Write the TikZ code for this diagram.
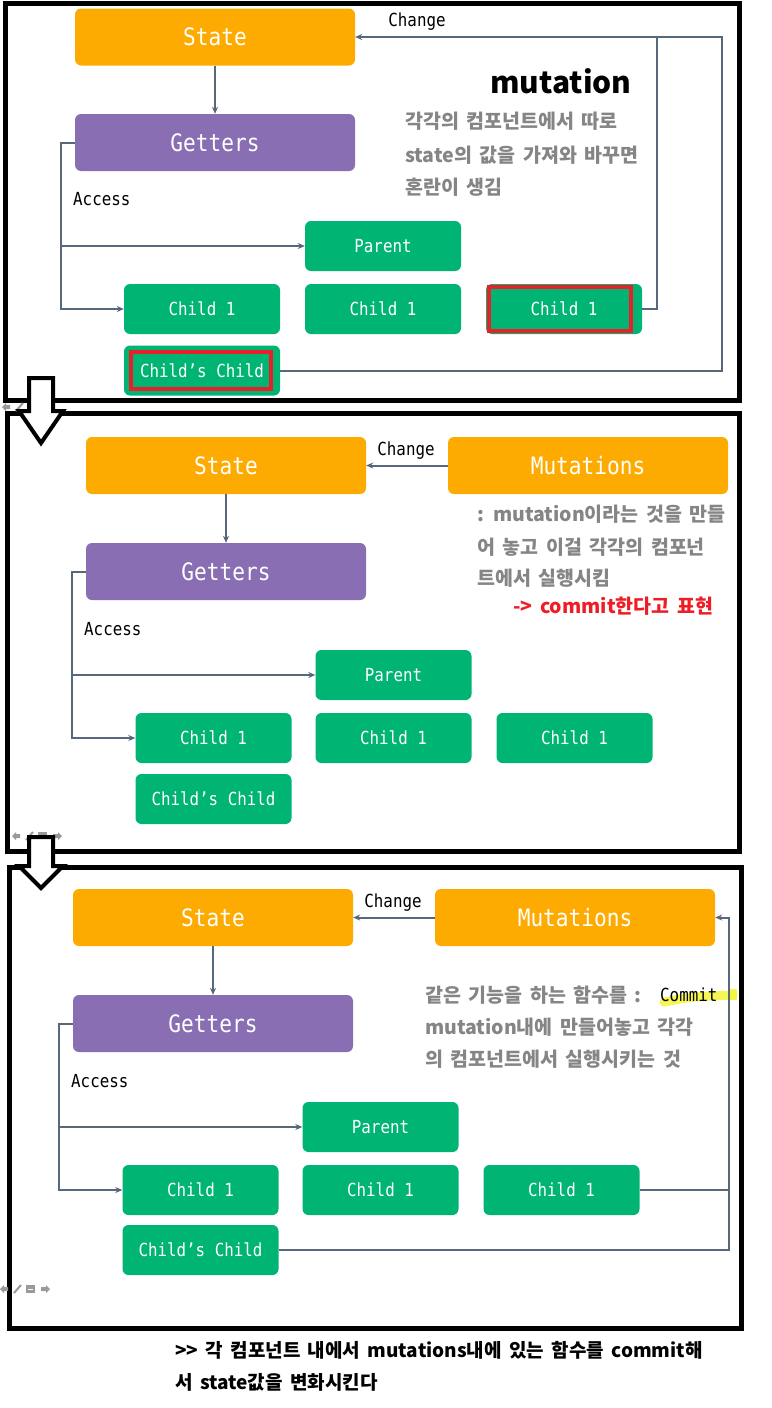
\documentclass[tikz,border=0pt]{standalone}
\usepackage{fontspec}
\usetikzlibrary{arrows.meta}
\newfontfamily\boxfont{DejaVu Sans Mono}[FakeStretch=0.88]
\newfontfamily\krfont{Noto Sans CJK KR}[WordSpace=1.7]
\definecolor{orng}{HTML}{FDAB00}
\definecolor{purp}{HTML}{896EB4}
\definecolor{grn}{HTML}{00B474}
\definecolor{lineclr}{HTML}{56687A}
\definecolor{graytxt}{HTML}{858585}
\definecolor{redbox}{HTML}{E8202A}
\definecolor{redtxt}{HTML}{EE1C25}
\definecolor{iconclr}{HTML}{9A9A9A}
\definecolor{hilite}{HTML}{F5F53A}
\newcommand\bigboxfont{\boxfont\fontsize{24}{28}\selectfont}
\newcommand\smallboxfont{\boxfont\fontsize{18}{22}\selectfont}
\newcommand\krtext{\krfont\bfseries\fontsize{19.5}{23}\selectfont}
\newcommand\krbottom{\krfont\bfseries\fontsize{19}{23}\selectfont}
\newcommand\navicons[2]{%
\begin{scope}[shift={(#1,#2)}]
\fill[iconclr] (0,0) -- (4,-4) -- (4,-2) -- (8,-2) -- (8,2) -- (4,2) -- (4,4) -- cycle;
\draw[iconclr, line width=2pt] (14,4) -- (21,-4);
\fill[iconclr] (26,-4) rectangle (35,4);
\draw[white, line width=1pt] (28,0) -- (33,0);
\fill[iconclr] (50,0) -- (46,-4) -- (46,-2) -- (41,-2) -- (41,2) -- (46,2) -- (46,4) -- cycle;
\end{scope}}
\tikzset{
 bx/.style={rounded corners=6pt, inner sep=0pt, text=white},
 stbox/.style={bx, fill=orng, minimum width=280pt, minimum height=57pt, font=\bigboxfont},
 getbox/.style={bx, fill=purp, minimum width=280pt, minimum height=57pt, font=\bigboxfont},
 gbox/.style={bx, fill=grn, minimum width=156pt, minimum height=50pt, font=\smallboxfont},
 frame/.style={draw=black, line width=5pt},
 con/.style={draw=lineclr, line width=2pt},
 arr/.style={con, -{Stealth[length=7pt,width=6pt]}},
 lbl/.style={font=\smallboxfont, text=black, inner sep=0pt},
 redmark/.style={draw=redbox, line width=4pt, inner sep=0pt},
 kr/.style={font=\krtext, text=graytxt, anchor=west, inner sep=0pt},
 bigarrow/.style={draw=black, fill=white, line width=4pt, line join=miter}
}
\begin{document}
\begin{tikzpicture}[x=1pt,y=-1pt]
\useasboundingbox (0,0) rectangle (771,1408);
\fill[white] (0,0) rectangle (771,1408);

% ---------- frames
\draw[frame] (5,3) rectangle (739,400);
\draw[frame] (7,413) rectangle (739,851);
\draw[frame] (9,867) rectangle (741,1328);

% ---------- panel 1
\node[stbox] (state1) at (215,37) {State};
\node[getbox] (get1) at (215,142.5) {Getters};
\node[gbox] (parent1) at (383,246) {Parent};
\node[gbox] (c1a) at (202,309) {Child 1};
\node[gbox] (c1b) at (383,309) {Child 1};
\node[gbox] (c1c) at (564,309) {Child 1};
\node[gbox] (cc1) at (202,370.5) {Child’s Child};
\node[redmark, minimum width=142pt, minimum height=44pt] (red1) at (560,309) {};
\node[redmark, minimum width=140pt, minimum height=37pt] (red2) at (201,370.5) {};
\node[lbl] (chg1) at (417,22) {Change};
\node[lbl, anchor=west] (acc1) at (73,199) {Access};
\node[font=\krfont\bfseries\fontsize{30}{34}\selectfont, text=black, inner sep=0pt] (mut1) at (561,81) {mutation};
\node[kr] (t1a) at (405,121) {각각의 컴포넌트에서 따로};
\node[kr] (t1b) at (405,155) {state의 값을 가져와 바꾸면};
\node[kr] (t1c) at (405,187) {혼란이 생김};

\draw[arr] (state1) -- (get1);
\coordinate (l1) at (61,142.5);
\coordinate (j1) at (61,246);
\draw[arr] (get1.west) -- (l1) |- (c1a.west);
\draw[arr] (j1) -- (parent1.west);
\coordinate (r1) at (657,37);
\coordinate (r2) at (722,37);
\draw[arr] (c1c.east) -| (r1) -- (state1.east);
\draw[con] (cc1.east) -| (r2) -- (r1);

% ---------- panel 2
\node[stbox] (state2) at (226,465.5) {State};
\node[stbox] (mut2) at (588,465.5) {Mutations};
\node[getbox] (get2) at (226,571.5) {Getters};
\node[gbox] (parent2) at (393.5,675) {Parent};
\node[gbox] (c2a) at (213.5,738) {Child 1};
\node[gbox] (c2b) at (393.5,738) {Child 1};
\node[gbox] (c2c) at (574.5,738) {Child 1};
\node[gbox] (cc2) at (213.5,799) {Child’s Child};
\node[lbl] (chg2) at (406,451) {Change};
\node[lbl, anchor=west] (acc2) at (84,629) {Access};
\node[kr] (t2a) at (477,514) {: mutation이라는 것을 만들};
\node[kr] (t2b) at (477,547) {어 놓고 이걸 각각의 컴포넌};
\node[kr] (t2c) at (477,578) {트에서 실행시킴};
\node[kr, text=redtxt] (t2d) at (513,606) {-> commit한다고 표현};

\draw[arr] (mut2.west) -- (state2.east);
\draw[arr] (state2) -- (get2);
\coordinate (l2) at (72,571.5);
\coordinate (j2) at (72,675);
\draw[arr] (get2.west) -- (l2) |- (c2a.west);
\draw[arr] (j2) -- (parent2.west);

% ---------- panel 3
\node[stbox] (state3) at (213,917.5) {State};
\node[stbox] (mut3) at (575,917.5) {Mutations};
\node[getbox] (get3) at (213,1023.5) {Getters};
\node[gbox] (parent3) at (380.5,1127) {Parent};
\node[gbox] (c3a) at (200.5,1190) {Child 1};
\node[gbox] (c3b) at (380.5,1190) {Child 1};
\node[gbox] (c3c) at (561.5,1190) {Child 1};
\node[gbox] (cc3) at (200.5,1250) {Child’s Child};
\node[lbl] (chg3) at (393,903) {Change};
\node[lbl, anchor=west] (acc3) at (71,1081) {Access};

\draw[hilite, line width=9pt, line cap=round, opacity=0.85] (664,1002) .. controls (690,997) .. (733,995);
\draw[hilite, line width=8pt, opacity=0.85] (733,989) -- (733,1000);
\node[kr] (t3a) at (425,995) {같은 기능을 하는 함수를 :};
\node[lbl, anchor=west] (commit) at (660,995) {Commit};
\node[kr] (t3b) at (425,1027) {mutation내에 만들어놓고 각각};
\node[kr] (t3c) at (425,1059) {의 컴포넌트에서 실행시키는 것};

\draw[arr] (mut3.west) -- (state3.east);
\draw[arr] (state3) -- (get3);
\coordinate (l3) at (59,1023.5);
\coordinate (j3) at (59,1127);
\draw[arr] (get3.west) -- (l3) |- (c3a.west);
\draw[arr] (j3) -- (parent3.west);
\coordinate (r3) at (729,917.5);
\draw[arr] (cc3.east) -| (r3) -- (mut3.east);
\draw[con] (c3c.east) -- (c3c.east -| r3);

% ---------- bottom text
\node[kr, font=\krbottom, text=black] (b1) at (175,1350) {>> 각 컴포넌트 내에서 mutations내에 있는 함수를 commit해};
\node[kr, font=\krbottom, text=black] (b2) at (175,1382) {서 state값을 변화시킨다};

% ---------- nav icons
\navicons{2}{407}
\navicons{12}{836}
\navicons{0}{1289}

% ---------- big hollow arrows
\draw[bigarrow] (29,378) -- (53,378) -- (53,411) -- (63,411) -- (41,443) -- (19,411) -- (29,411) -- cycle;
\draw[bigarrow] (29,837) -- (53,837) -- (53,866) -- (63,866) -- (41,888) -- (19,866) -- (29,866) -- cycle;
\end{tikzpicture}
\end{document}
